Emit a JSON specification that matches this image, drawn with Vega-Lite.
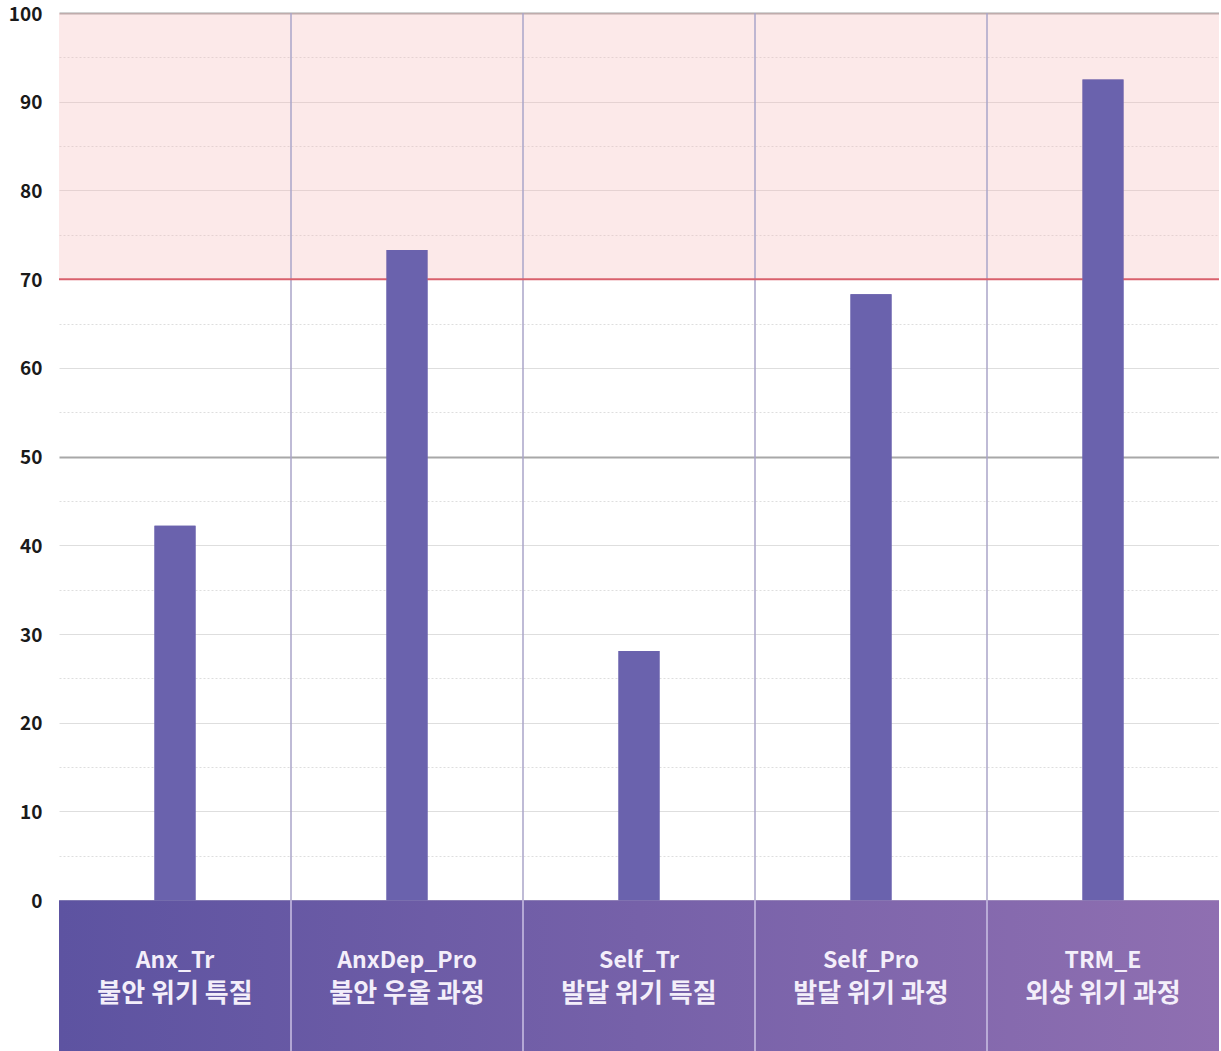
{
  "$schema": "https://vega.github.io/schema/vega-lite/v6.json",
  "width": 1160,
  "height": 1038,
  "autosize": {"type": "none"},
  "padding": {"left": 59, "top": 13, "right": 0, "bottom": 0},
  "config": {"view": {"stroke": null}},
  "data": {
    "values": [
      {"code": "Anx_Tr", "name": "불안 위기 특질", "score": 42.2},
      {"code": "AnxDep_Pro", "name": "불안 우울 과정", "score": 73.3},
      {"code": "Self_Tr", "name": "발달 위기 특질", "score": 28.1},
      {"code": "Self_Pro", "name": "발달 위기 과정", "score": 68.3},
      {"code": "TRM_E", "name": "외상 위기 과정", "score": 92.5}
    ]
  },
  "layer": [
    {
      "mark": {"type": "bar", "width": 41, "color": "#6a62ad"},
      "encoding": {
        "x": {"field": "code", "type": "nominal", "sort": null, "scale": {"paddingInner": 0, "paddingOuter": 0}, "axis": null},
        "y": {
          "field": "score", "type": "quantitative",
          "scale": {"domain": [-17, 100], "nice": false, "zero": false},
          "axis": {
            "title": null,
            "values": [0, 5, 10, 15, 20, 25, 30, 35, 40, 45, 50, 55, 60, 65, 70, 75, 80, 85, 90, 95, 100],
            "labelExpr": "datum.value % 10 == 0 ? datum.label : ''",
            "domain": false,
            "ticks": false,
            "labelPadding": 17,
            "labelFontSize": 19,
            "labelFont": "Noto Sans CJK KR",
            "labelFontWeight": "bold",
            "labelColor": "#1a1a1a",
            "labelOffset": 1,
            "grid": true,
            "gridColor": {"condition": {"test": "datum.value == 50 || datum.value == 100", "value": "#a8a8a8"}, "value": "#dedede"},
            "gridDash": {"condition": {"test": "datum.value % 10 != 0", "value": [2, 2]}, "value": []},
            "gridWidth": {"condition": {"test": "datum.value == 50 || datum.value == 100", "value": 2}, "value": 1}
          }
        },
        "y2": {"datum": 0}
      }
    },
    {
      "transform": [{"aggregate": [{"op": "count", "as": "n"}]}],
      "mark": {"type": "rect", "fill": "#f5b5b5", "fillOpacity": 0.3},
      "encoding": {"y": {"datum": 70}, "y2": {"datum": 100}}
    },
    {
      "transform": [{"aggregate": [{"op": "count", "as": "n"}]}],
      "mark": {
        "type": "rect",
        "fill": {"gradient": "linear", "x1": 0, "x2": 1, "y1": 0, "y2": 0,
          "stops": [{"offset": 0, "color": "#5d53a1"}, {"offset": 1, "color": "#8f6fb1"}]}
      },
      "encoding": {"y": {"datum": -17}, "y2": {"datum": 0}}
    },
    {
      "transform": [{"filter": "datum.code != 'Anx_Tr'"}],
      "mark": {"type": "rule", "color": "#aaa4c9", "strokeWidth": 1.5},
      "encoding": {
        "x": {"field": "code", "type": "nominal", "sort": null, "bandPosition": 0},
        "y": {"datum": 0}, "y2": {"datum": 100}
      }
    },
    {
      "transform": [{"filter": "datum.code != 'Anx_Tr'"}],
      "mark": {"type": "rule", "color": "#cbc2e4", "strokeWidth": 1.5},
      "encoding": {
        "x": {"field": "code", "type": "nominal", "sort": null, "bandPosition": 0},
        "y": {"datum": -17}, "y2": {"datum": 0}
      }
    },
    {
      "transform": [{"aggregate": [{"op": "count", "as": "n"}]}],
      "mark": {"type": "rule", "color": "#d9606c", "strokeWidth": 2},
      "encoding": {"y": {"datum": 70}}
    },
    {
      "mark": {"type": "bar", "width": 41, "color": "#6a62ad"},
      "encoding": {
        "x": {"field": "code", "type": "nominal", "sort": null},
        "y": {"field": "score", "type": "quantitative"},
        "y2": {"datum": 0}
      }
    },
    {
      "mark": {"type": "text", "fontSize": 23, "font": "Noto Sans CJK KR", "fontWeight": "bold", "color": "#f3eefa", "baseline": "middle"},
      "encoding": {
        "x": {"field": "code", "type": "nominal", "sort": null},
        "y": {"datum": -6.8},
        "text": {"field": "code"}
      }
    },
    {
      "mark": {"type": "text", "fontSize": 26, "font": "Noto Sans CJK KR", "fontWeight": "bold", "color": "#f3eefa", "baseline": "middle"},
      "encoding": {
        "x": {"field": "code", "type": "nominal", "sort": null},
        "y": {"datum": -10.6},
        "text": {"field": "name"}
      }
    }
  ]
}
